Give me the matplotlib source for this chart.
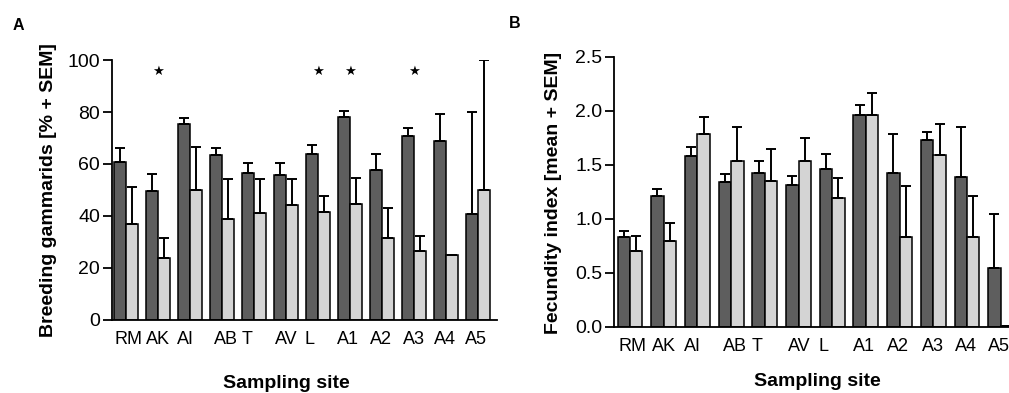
import numpy as np
import matplotlib
matplotlib.use("Agg")
import matplotlib.pyplot as plt

plt.rcParams['font.family'] = ['Liberation Sans', 'DejaVu Sans']

# --- Data ---
sites = ["RM", "AK", "AI", "AB", "T", "AV", "L", "A1", "A2", "A3", "A4", "A5"]

# Panel A: breeding gammarids [%]
breed_dark = [60.7, 49.5, 75.5, 63.5, 56.3, 55.8, 64.0, 77.9, 57.5, 70.7, 68.9, 40.6]
breed_dark_sem = [5.3, 6.7, 2.1, 2.5, 3.9, 4.5, 3.2, 2.4, 6.5, 3.1, 10.3, 39.4]
breed_light = [37.0, 23.8, 50.0, 38.9, 41.2, 44.2, 41.6, 44.7, 31.5, 26.5, 24.9, 50.0]
breed_light_sem = [14.0, 7.8, 16.7, 15.3, 13.1, 9.8, 6.0, 9.8, 11.4, 5.7, 0.0, 50.0]
signif = [False, True, False, False, False, False, True, True, False, True, False, False]

# Panel B: fecundity index
fec_dark = [0.828, 1.213, 1.58, 1.34, 1.42, 1.312, 1.457, 1.957, 1.42, 1.726, 1.383, 0.546]
fec_dark_sem = [0.058, 0.065, 0.084, 0.074, 0.117, 0.081, 0.143, 0.099, 0.36, 0.074, 0.466, 0.50]
fec_light = [0.698, 0.794, 1.78, 1.531, 1.349, 1.537, 1.189, 1.957, 0.83, 1.587, 0.828, 0.01]
fec_light_sem = [0.145, 0.166, 0.164, 0.315, 0.293, 0.213, 0.185, 0.21, 0.476, 0.293, 0.385, 0.0]

# label drift (the original tick labels are not quite centred)
label_shift = [0.07, 0.0, -0.15, 0.12, -0.22, 0.02, -0.26, -0.06, -0.04, -0.02, -0.03, -0.06]

DARK = "#5e5e5e"
LIGHT = "#d4d4d4"

fig = plt.figure(figsize=(10.09, 3.93), dpi=100)
axA = fig.add_axes([0.111, 0.187, 0.3816, 0.660])
axB = fig.add_axes([0.6088, 0.1687, 0.4027, 0.687])


def draw_panel(ax, dark, dark_sem, light, light_sem, width):
    x = np.arange(len(sites))
    ekw = dict(ecolor="black", elinewidth=1.4, capsize=3.5, capthick=1.4)
    ax.bar(x - width / 2, dark, width, color=DARK, edgecolor="black", linewidth=1.1,
           yerr=[np.zeros(len(dark)), dark_sem], error_kw=ekw, zorder=2)
    ax.bar(x + width / 2, light, width, color=LIGHT, edgecolor="black", linewidth=1.1,
           yerr=[np.zeros(len(light)), light_sem], error_kw=ekw, zorder=2)
    ax.set_xticks(x + np.array(label_shift))
    ax.set_xticklabels(sites, fontsize=13)
    ax.tick_params(axis="x", length=0, pad=8)
    ax.tick_params(axis="y", length=6.5, width=1.3, labelsize=14, pad=2)
    for s in ["top", "right"]:
        ax.spines[s].set_visible(False)
    for s in ["left", "bottom"]:
        ax.spines[s].set_linewidth(1.3)
    return x


x = draw_panel(axA, breed_dark, breed_dark_sem, breed_light, breed_light_sem, 0.375)
axA.set_xlim(-0.44, 11.59)
axA.set_ylim(0, 100)
axA.set_yticks([0, 20, 40, 60, 80, 100])
for xi, s in zip(x, signif):
    if s:
        axA.text(xi, 95.5, "\u2605", ha="center", va="center", fontsize=9.5,
                 family=["DejaVu Sans"])

draw_panel(axB, fec_dark, fec_dark_sem, fec_light, fec_light_sem, 0.37)
axB.set_xlim(-0.466, 11.59)
axB.set_ylim(0, 2.5)
axB.set_yticks([0.0, 0.5, 1.0, 1.5, 2.0, 2.5])
axB.set_yticklabels(["0.0", "0.5", "1.0", "1.5", "2.0", "2.5"])

fig.text(49 / 1009, 1 - 190 / 393, "Breeding gammarids [% + SEM]", rotation=90,
         ha="center", va="center", fontsize=14, fontweight="bold")
fig.text(553 / 1009, 1 - 193 / 393, "Fecundity index [mean + SEM]", rotation=90,
         ha="center", va="center", fontsize=14, fontweight="bold")
fig.text(286 / 1009, 1 - 383 / 393, "Sampling site", ha="center", va="center",
         fontsize=14, fontweight="bold")
fig.text(817 / 1009, 1 - 382 / 393, "Sampling site", ha="center", va="center",
         fontsize=14, fontweight="bold")
fig.text(18 / 1009, 1 - 25 / 393, "A", ha="center", va="center", fontsize=11.5,
         fontweight="bold")
fig.text(515 / 1009, 1 - 23 / 393, "B", ha="center", va="center", fontsize=11.5,
         fontweight="bold")

fig.savefig("out.png", dpi=100)
